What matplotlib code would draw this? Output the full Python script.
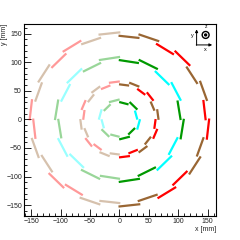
import numpy as np
import matplotlib
matplotlib.use('Agg')
import matplotlib.pyplot as plt
from matplotlib.patches import Circle
from matplotlib.ticker import MultipleLocator

plt.rcParams['font.family'] = ['Liberation Sans', 'DejaVu Sans']

# ---- data -------------------------------------------------------------
ring_modules = [6, 10, 12, 14]              # modules per ring
ring_r_inner = [30.5, 104.0, 61.5, 146.5]   # radius of first half-module [mm]
ring_r_outer = [35.0, 109.5, 66.5, 152.5]   # radius of second half-module [mm]
ring_colors = [
    ['G', 'C', 'G', 'G', 'C', 'G'],
    ['G', 'C', 'G', 'C', 'G', 'G', 'C', 'G', 'C', 'G'],
    ['B', 'R', 'B', 'R', 'B', 'R', 'B', 'R', 'B', 'R', 'B', 'R'],
    ['B', 'R', 'B', 'R', 'B', 'R', 'B', 'B', 'R', 'B', 'R', 'B', 'R', 'B'],
]
palette = {'B': '#996633', 'R': '#ff0000', 'G': '#009900', 'C': '#00ffff'}
x_ticks = [-150, -100, -50, 0, 50, 100, 150]
y_ticks = [-150, -100, -50, 0, 50, 100, 150]

# ---- figure -----------------------------------------------------------
fig = plt.figure(figsize=(2.4, 2.4), dpi=100)
fig.patch.set_facecolor('white')
ax = fig.add_axes([0.1, 0.1, 0.8, 0.8])

ov = 0.6
for n, r_in, r_out, cols in zip(ring_modules, ring_r_inner, ring_r_outer, ring_colors):
    dth = 360.0 / n
    for k in range(n):
        th0 = 90.0 - k * dth
        thm = th0 - dth / 2
        th1 = th0 - dth
        center = np.deg2rad(thm)
        alpha = 1.0 if np.cos(center) > 0 else 0.4
        z = 3 if alpha == 1.0 else 2
        for (a, b, r) in [(th0 + ov, thm - ov, r_in), (thm + ov, th1 - ov, r_out)]:
            a_r, b_r = np.deg2rad(a), np.deg2rad(b)
            ax.plot([r * np.cos(a_r), r * np.cos(b_r)],
                    [r * np.sin(a_r), r * np.sin(b_r)],
                    color=palette[cols[k]], alpha=alpha, lw=1.6,
                    solid_capstyle='butt', zorder=z)

ax.set_xlim(-162, 164)
ax.set_ylim(-169, 167)
ax.set_xticks(x_ticks)
ax.set_yticks(y_ticks)
ax.xaxis.set_minor_locator(MultipleLocator(10))
ax.yaxis.set_minor_locator(MultipleLocator(10))
ax.tick_params(which='both', direction='in', top=False, right=False,
               width=0.6, labelsize=5, pad=1.5, labelcolor='#222222')
ax.tick_params(which='major', length=5)
ax.tick_params(which='minor', length=2.5)
for s in ax.spines.values():
    s.set_linewidth(0.8)

ax.set_xlabel('x [mm]', fontsize=5, loc='right', color='#222222')
ax.set_ylabel('y [mm]', fontsize=5, loc='top', color='#222222')
ax.xaxis.set_label_coords(1.0, -0.052)
ax.yaxis.set_label_coords(-0.085, 1.0)

# orientation icon
T = ax.transAxes
ax.annotate('', xy=(0.899, 0.972), xytext=(0.899, 0.889), xycoords=T, textcoords=T,
            arrowprops=dict(arrowstyle='-|>', lw=0.7, color='black', mutation_scale=4,
                            shrinkA=0, shrinkB=0))
ax.annotate('', xy=(0.98, 0.891), xytext=(0.897, 0.891), xycoords=T, textcoords=T,
            arrowprops=dict(arrowstyle='-|>', lw=0.7, color='black', mutation_scale=4,
                            shrinkA=0, shrinkB=0))
ax.add_patch(Circle((0.946, 0.943), 0.018, transform=T, fill=False, lw=1.0,
                    edgecolor='black', clip_on=False))
ax.add_patch(Circle((0.946, 0.943), 0.005, transform=T, color='black', clip_on=False))
ax.text(0.879, 0.94, 'y', transform=T, fontsize=4, ha='center', va='center')
ax.text(0.944, 0.867, 'x', transform=T, fontsize=4, ha='center', va='center')
ax.text(0.946, 0.985, 'z', transform=T, fontsize=3.5, ha='center', va='center')

fig.savefig('out.png', dpi=100, facecolor='white')
